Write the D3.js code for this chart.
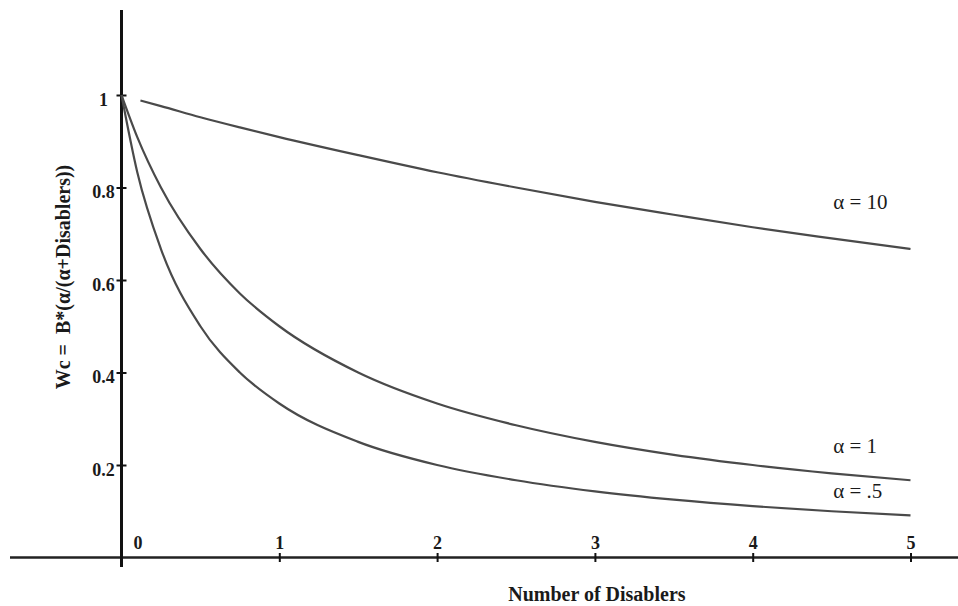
<!DOCTYPE html>
<html>
<head>
<meta charset="utf-8">
<script src="https://cdn.jsdelivr.net/npm/d3@7"></script>
<style>
  body { margin: 0; background: #fff; }
  svg { display: block; }
  text { font-family: "Liberation Serif", "Times New Roman", serif; fill: #1a1a1a; }
</style>
</head>
<body>
<svg width="958" height="606"></svg>
<script>
// values
var xSamples = [0, 0.1, 0.25, 0.5, 0.75, 1, 1.5, 2, 2.5, 3, 3.5, 4, 4.5, 5];
var halfVals = [1, 0.833, 0.667, 0.5, 0.4, 0.333, 0.25, 0.2, 0.167, 0.143, 0.125, 0.111, 0.1, 0.091];
var oneVals = [1, 0.909, 0.8, 0.667, 0.571, 0.5, 0.4, 0.333, 0.286, 0.25, 0.222, 0.2, 0.182, 0.167];
// alpha = 10 line starts a little right of the axis
var tenX = [0.12, 0.25, 0.5, 0.75, 1, 1.5, 2, 2.5, 3, 3.5, 4, 4.5, 5];
var tenVals = [0.988, 0.976, 0.952, 0.930, 0.909, 0.870, 0.833, 0.8, 0.769, 0.741, 0.714, 0.690, 0.667];

var xTicks = [0, 1, 2, 3, 4, 5];
var yTicks = [0.2, 0.4, 0.6, 0.8, 1];

var series = [
  {label: '\u03b1 = 10', xs: tenX, ys: tenVals, lx: 4.51, ly: 0.754},
  {label: '\u03b1 = 1', xs: xSamples, ys: oneVals, lx: 4.51, ly: 0.225},
  {label: '\u03b1 = .5', xs: xSamples, ys: halfVals, lx: 4.51, ly: 0.128}
];

var svg = d3.select('svg');
var x = d3.scaleLinear().domain([0, 5]).range([121.5, 910.5]);
var y = d3.scaleLinear().domain([0, 1]).range([557.5, 95]);

// axis lines, running past the plot area
svg.append('line')
  .attr('x1', 10).attr('x2', 958)
  .attr('y1', y(0)).attr('y2', y(0))
  .attr('stroke', '#222').attr('stroke-width', 2.6);
svg.append('line')
  .attr('x1', x(0)).attr('x2', x(0))
  .attr('y1', 10).attr('y2', 567)
  .attr('stroke', '#111').attr('stroke-width', 3);

// x ticks
var gx = svg.append('g')
  .attr('transform', 'translate(0,' + y(0) + ')')
  .call(d3.axisBottom(x).tickValues(xTicks).tickSize(0).tickFormat(d3.format('d')));
gx.select('.domain').remove();
gx.selectAll('.tick line')
  .attr('y1', -4.5).attr('y2', 4.5)
  .attr('stroke', '#111').attr('stroke-width', 2);
gx.selectAll('.tick line').filter(function(d) { return d === 0; }).remove();
gx.selectAll('.tick text')
  .attr('y', -9).attr('dy', 0)
  .attr('x', function(d) { return d === 0 ? 16 : 0; })
  .style('font-size', '18px')
  .style('font-weight', 'bold')
  .style('font-family', '"Liberation Serif", serif')
  .attr('fill', '#1a1a1a');

// y ticks
var gy = svg.append('g')
  .attr('transform', 'translate(' + x(0) + ',0)')
  .call(d3.axisLeft(y).tickValues(yTicks).tickSize(0).tickFormat(function(d) { return d === 1 ? '1' : d3.format('.1f')(d); }));
gy.select('.domain').remove();
gy.selectAll('.tick line')
  .attr('x1', -5).attr('x2', 5)
  .attr('stroke', '#111').attr('stroke-width', 2);
gy.selectAll('.tick text')
  .attr('x', -18).attr('dy', '10px')
  .attr('text-anchor', 'middle')
  .style('font-size', '18px')
  .style('font-weight', 'bold')
  .style('font-family', '"Liberation Serif", serif')
  .attr('fill', '#1a1a1a');

// curves
var line = d3.line()
  .x(function(d) { return x(d[0]); })
  .y(function(d) { return y(d[1]); })
  .curve(d3.curveMonotoneX);

svg.selectAll('.curve')
  .data(series)
  .enter()
  .append('path')
  .attr('class', 'curve')
  .attr('d', function(d) {
    return line(d.xs.map(function(v, i) { return [v, d.ys[i]]; }));
  })
  .attr('fill', 'none')
  .attr('stroke', '#4a4a4a')
  .attr('stroke-width', 2.2);

svg.selectAll('.curve-label')
  .data(series)
  .enter()
  .append('text')
  .attr('class', 'curve-label')
  .attr('x', function(d) { return x(d.lx); })
  .attr('y', function(d) { return y(d.ly); })
  .style('font-size', '21px')
  .style('font-family', '"Liberation Serif", serif')
  .attr('fill', '#222')
  .text(function(d) { return d.label; });

// axis titles
svg.append('text')
  .attr('x', x(3) + 2)
  .attr('y', 601)
  .attr('text-anchor', 'middle')
  .style('font-size', '20px')
  .style('font-weight', 'bold')
  .text('Number of Disablers');

svg.append('text')
  .attr('transform', 'translate(70,277) rotate(-90)')
  .attr('text-anchor', 'middle')
  .style('font-size', '20px')
  .style('font-weight', 'bold')
  .style('white-space', 'pre')
  .text('Wc =  B*(\u03b1/(\u03b1+Disablers))');
</script>
</body>
</html>
